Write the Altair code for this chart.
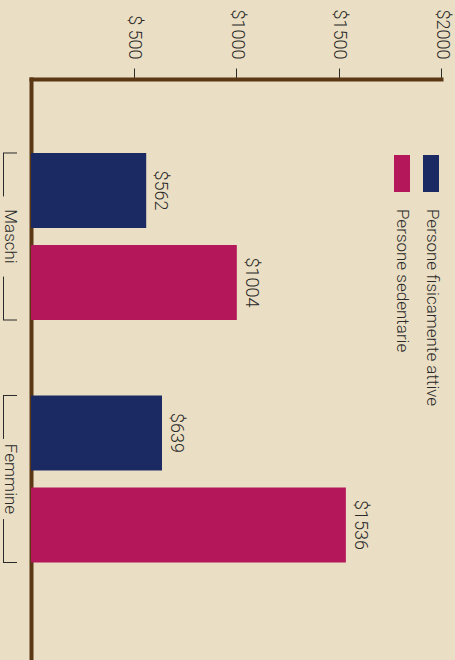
import altair as alt
import pandas as pd

# ---- data ----
groups = ["Maschi", "Femmine"]
series = ["Persone fisicamente attive", "Persone sedentarie"]
active = [562, 639]
sedentary = [1004, 1536]
tick_values = [500, 1000, 1500, 2000]
tick_labels = ["$ 500", "$1000", "$1500", "$2000"]
colors = ["#1c2a64", "#b5175b"]

rows = []
for g, a, s in zip(groups, active, sedentary):
    rows.append({"group": g, "series": series[0], "value": a, "label": f"${a}"})
    rows.append({"group": g, "series": series[1], "value": s, "label": f"${s}"})
df = pd.DataFrame(rows)
gdf = pd.DataFrame({"group": groups})
ldf = pd.DataFrame({"series": series})

BG = "#eadfc4"
BROWN = "#5b3714"
INK = "#2a2a2a"
FONT = "Roboto"
W = 300

label_expr = " : ".join(f"datum.value == {v} ? '{t}'" for v, t in zip(tick_values, tick_labels)) + " : ''"

x_enc = alt.X(
    "value:Q",
    scale=alt.Scale(domain=[0, 2000], nice=False, zero=True),
    axis=alt.Axis(
        orient="top", values=tick_values, labelExpr=label_expr,
        labelAngle=90, labelAlign="right", labelBaseline="middle",
        labelFlush=False, labelOverlap=False, labelPadding=9,
        tickSize=11, tickColor=INK, tickWidth=1,
        domainColor=BROWN, domainWidth=4, domainCap="square",
        grid=False, title=None, labelFont=FONT, labelFontWeight=W,
        labelFontSize=18, labelColor=INK,
    ),
)
y_enc = alt.Y(
    "group:N", sort=groups,
    scale=alt.Scale(paddingInner=0.3113, paddingOuter=0.3536, align=0.4315),
    axis=alt.Axis(
        orient="left", ticks=False, domainColor=BROWN, domainWidth=4, domainCap="square",
        labelAngle=90, labelAlign="center", labelBaseline="middle", labelPadding=22,
        title=None, labelFont=FONT, labelFontWeight=W, labelFontSize=17,
        labelColor=INK, grid=False,
    ),
)
yoff_enc = alt.YOffset("series:N", sort=series, scale=alt.Scale(paddingInner=0.185, paddingOuter=0))
color_enc = alt.Color("series:N", scale=alt.Scale(domain=series, range=colors), legend=None)

bars = alt.Chart(df).mark_bar().encode(x=x_enc, y=y_enc, yOffset=yoff_enc, color=color_enc)

values_txt = alt.Chart(df).mark_text(
    angle=90, align="center", baseline="alphabetic", xOffset=9,
    fontSize=18, font=FONT, fontWeight=W, color=INK,
).encode(x="value:Q", y=alt.Y("group:N", sort=groups), yOffset=alt.YOffset("series:N", sort=series), text="label:N")

# brackets around the group labels
rule_kw = dict(color=INK, strokeWidth=1)
b_top = alt.Chart(gdf).mark_rule(**rule_kw).encode(
    y=alt.Y("group:N", sort=groups, bandPosition=0), x=alt.value(-28), x2=alt.value(-14))
b_bot = alt.Chart(gdf).mark_rule(**rule_kw).encode(
    y=alt.Y("group:N", sort=groups, bandPosition=1), x=alt.value(-28), x2=alt.value(-14))
v_top = alt.Chart(gdf).mark_rule(**rule_kw).encode(
    x=alt.value(-27.5),
    y=alt.Y("group:N", sort=groups, bandPosition=0), y2=alt.Y2("group", bandPosition=0.26))
v_bot = alt.Chart(gdf).mark_rule(**rule_kw).encode(
    x=alt.value(-27.5),
    y=alt.Y("group:N", sort=groups, bandPosition=0.74), y2=alt.Y2("group", bandPosition=1))

# manual rotated legend
def legend_item(i, sx, tx):
    base = alt.Chart(ldf).transform_filter(alt.datum.series == series[i])
    sw = base.mark_rect().encode(
        x=alt.value(sx), x2=alt.value(sx + 16), y=alt.value(76), y2=alt.value(113), color=color_enc)
    tx_ = base.mark_text(angle=90, align="left", baseline="middle", fontSize=17,
                         font=FONT, fontWeight=W, color=INK).encode(
        x=alt.value(tx), y=alt.value(130), text="series:N")
    return sw + tx_

leg = legend_item(0, 392, 401) + legend_item(1, 363, 371)

chart = alt.layer(bars, values_txt, b_top, b_bot, v_top, v_bot, leg).properties(
    width=410, height=581,
    autosize=alt.AutoSizeParams(type="none"),
    padding={"left": 31, "top": 79, "right": 14, "bottom": 0},
    background=BG,
).configure_view(stroke=None)

chart.save("out.html", embed_options={"renderer": "svg", "actions": False})
